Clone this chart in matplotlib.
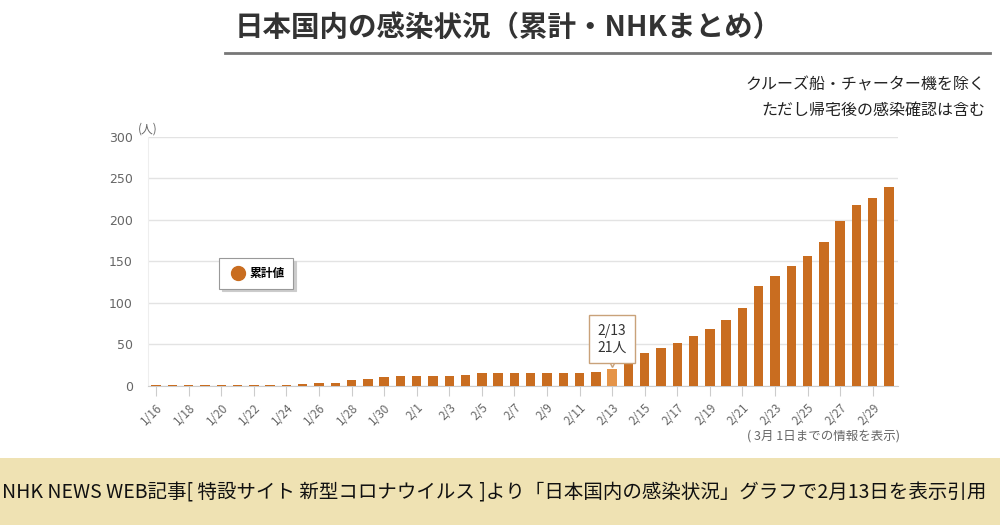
import matplotlib
matplotlib.use("Agg")
import matplotlib.pyplot as plt
from matplotlib.lines import Line2D
from matplotlib.patches import Rectangle

plt.rcParams['font.family'] = ['Noto Sans CJK JP', 'DejaVu Sans']

# cumulative cases, 1/16 .. 3/1
dates = ["1/16", "1/17", "1/18", "1/19", "1/20", "1/21", "1/22", "1/23", "1/24", "1/25",
         "1/26", "1/27", "1/28", "1/29", "1/30", "1/31", "2/1", "2/2", "2/3", "2/4",
         "2/5", "2/6", "2/7", "2/8", "2/9", "2/10", "2/11", "2/12", "2/13", "2/14",
         "2/15", "2/16", "2/17", "2/18", "2/19", "2/20", "2/21", "2/22", "2/23", "2/24",
         "2/25", "2/26", "2/27", "2/28", "2/29", "3/1"]
cases = [1, 1, 1, 1, 1, 1, 1, 1, 1, 2,
         4, 4, 7, 8, 11, 12, 12, 12, 12, 13,
         16, 16, 16, 16, 16, 16, 16, 17, 21, 28,
         40, 46, 52, 60, 69, 80, 94, 120, 132, 145,
         156, 173, 199, 218, 227, 240]
highlight = "2/13"

bar_color = "#C96D20"
hi_color = "#E59448"
tan = "#C9A27A"
gray = "#666666"

fig = plt.figure(figsize=(10, 5.25), dpi=100)
ax = fig.add_axes([0.148, 0.2648, 0.75, 0.4743])

x = list(range(len(dates)))
colors = [hi_color if d == highlight else bar_color for d in dates]
ax.bar(x, cases, width=0.58, color=colors, zorder=3)

ax.set_xlim(-0.5, len(dates) - 0.45)
ax.set_ylim(0, 300)
ax.set_yticks(range(0, 301, 50))
ax.tick_params(axis='y', length=0, labelsize=9, labelcolor=gray, pad=11)
ax.grid(axis='y', color="#e3e3e3", linewidth=1, zorder=0)
ax.set_xticks(x[::2])
ax.set_xticklabels(dates[::2], rotation=45, ha='right', rotation_mode='anchor',
                   fontsize=8.5, color=gray)
ax.tick_params(axis='x', length=7, color="#cccccc", pad=4)
for s in ['top', 'right']:
    ax.spines[s].set_visible(False)
ax.spines['left'].set_color("#eeeeee")
ax.spines['bottom'].set_color("#cccccc")
for t in ax.get_yticklabels():
    t.set_family(['DejaVu Sans'])
ax.text(-1.1, 302, "(人)", fontsize=8.5, color=gray, ha='left', va='bottom')

# legend
h = Line2D([], [], marker='o', linestyle='none', markersize=10,
           markerfacecolor=bar_color, markeredgecolor=bar_color)
leg = ax.legend([h], ["累計値"], loc='upper left', bbox_to_anchor=(0.095, 0.514),
                borderaxespad=0, fancybox=False,
                shadow={'color': '#cccccc', 'alpha': 1}, framealpha=1,
                edgecolor="#999999", prop={'size': 8.5, 'weight': 'bold'},
                handletextpad=0.2, borderpad=0.75, handlelength=1.6)
leg.get_frame().set_linewidth(0.8)

# tooltip at highlighted bar
i = dates.index(highlight)
ax.plot(i, cases[i] + 9, marker='v', markersize=8, markerfacecolor='white',
        markeredgecolor=tan, markeredgewidth=1, zorder=4, clip_on=False)
ax.text(i, cases[i] + 17, f"{highlight}\n{cases[i]}人", ha='center', va='bottom',
        fontsize=10, color="#333333", linespacing=1.25, zorder=5,
        bbox=dict(boxstyle='square,pad=0.6', fc='white', ec=tan, lw=1))

# headings
fig.text(0.508, 0.947, "日本国内の感染状況（累計・NHKまとめ）", ha='center', va='center',
         fontsize=20.5, fontweight='bold', color="#333333")
fig.add_artist(Line2D([0.225, 0.99], [0.9, 0.9], color="#777777", linewidth=2))
fig.text(0.985, 0.838, "クルーズ船・チャーター機を除く", ha='right', va='center',
         fontsize=11.5, color="#222222")
fig.text(0.985, 0.789, "ただし帰宅後の感染確認は含む", ha='right', va='center',
         fontsize=11.5, color="#222222")
fig.text(0.9, 0.169, "( 3月 1日までの情報を表示)", ha='right', va='center',
         fontsize=9, color=gray)

# bottom banner
fig.add_artist(Rectangle((0, 0), 1, 0.128, transform=fig.transFigure,
                         facecolor="#EFE2B3", edgecolor='none'))
fig.text(0.002, 0.061,
         "NHK NEWS WEB記事[ 特設サイト 新型コロナウイルス ]より「日本国内の感染状況」グラフで2月13日を表示引用",
         ha='left', va='center', fontsize=14, color="#111111")

fig.savefig("out.png", dpi=100)
